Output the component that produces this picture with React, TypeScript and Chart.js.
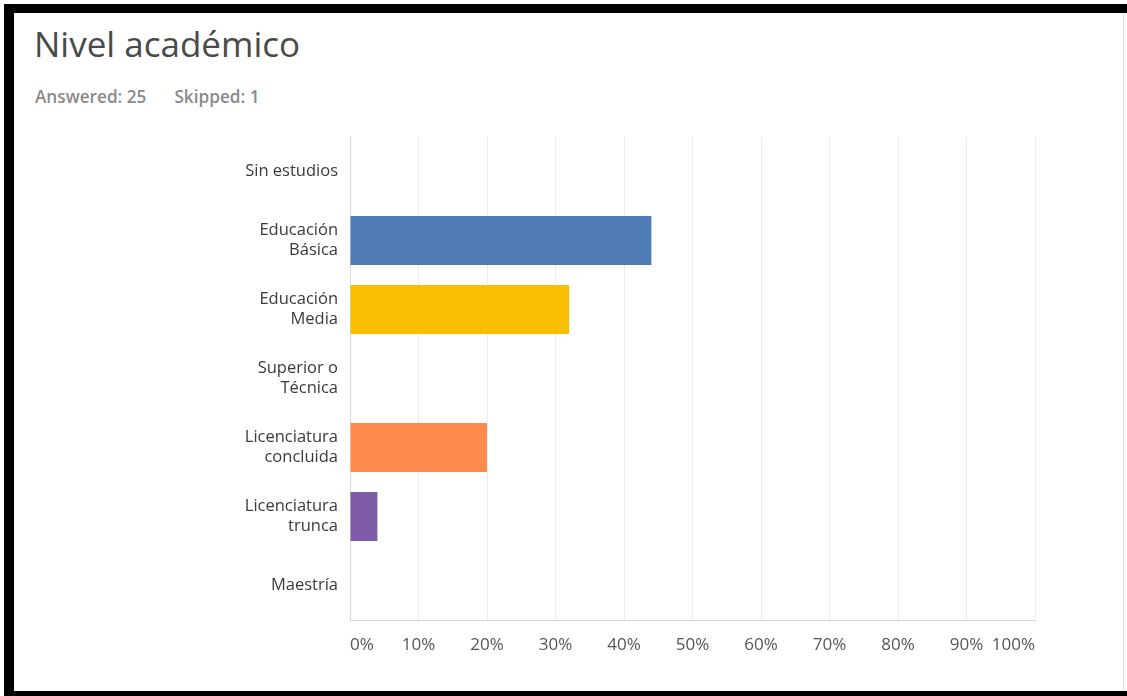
import React, { useEffect, useRef } from "react";
import { Chart, registerables } from "chart.js";

Chart.register(...registerables);

const title = "Nivel académico";
const answered = "Answered: 25";
const skipped = "Skipped: 1";

const categories: (string | string[])[] = [
  "Sin estudios",
  ["Educación", "Básica"],
  ["Educación", "Media"],
  ["Superior o", "Técnica"],
  ["Licenciatura", "concluida"],
  ["Licenciatura", "trunca"],
  "Maestría",
];
const percentages = [0, 44, 32, 0, 20, 4, 0];
const barColors = ["#6bc8cd", "#507cb6", "#f9be00", "#6bc8cd", "#ff8b4f", "#7d5ba6", "#dd57a1"];
const xTicks = [0, 10, 20, 30, 40, 50, 60, 70, 80, 90, 100];

const FONT = "'Open Sans', sans-serif";

export default function App() {
  const ref = useRef<HTMLCanvasElement | null>(null);

  useEffect(() => {
    if (!ref.current) return;
    const chart = new Chart(ref.current, {
      type: "bar",
      data: {
        labels: categories,
        datasets: [
          {
            data: percentages,
            backgroundColor: barColors,
            borderWidth: 0,
            categoryPercentage: 1,
            barPercentage: 0.71,
          },
        ],
      },
      options: {
        indexAxis: "y",
        responsive: false,
        animation: false,
        devicePixelRatio: 1,
        layout: { padding: { top: 13, right: 79, bottom: 5, left: 0 } },
        plugins: {
          legend: { display: false },
          tooltip: { enabled: false },
          title: { display: false },
        },
        scales: {
          x: {
            min: 0,
            max: 100,
            afterFit: (scale: any) => {
              scale.height = 50;
            },
            afterBuildTicks: (scale: any) => {
              scale.ticks = xTicks.map((v) => ({ value: v }));
            },
            grid: { color: "#ececec", lineWidth: 1, drawTicks: false },
            border: { display: true, color: "#dadada", width: 1 },
            ticks: {
              align: "inner",
              padding: 15,
              color: "#555",
              font: { family: FONT, size: 17 },
              maxRotation: 0,
              autoSkip: false,
              callback: (v: any) => `${v}%`,
            },
          },
          y: {
            afterFit: (scale: any) => {
              scale.width = 336;
            },
            grid: { display: false, drawTicks: false },
            border: { display: true, color: "#dadada", width: 1 },
            ticks: {
              padding: 12,
              color: "#3a3a3a",
              font: { family: FONT, size: 16.5, lineHeight: 1.2 },
              autoSkip: false,
            },
          },
        },
      },
    } as any);
    return () => chart.destroy();
  }, []);

  return (
    <div
      style={{
        position: "absolute",
        left: 0,
        top: 0,
        width: 1127,
        height: 696,
        background: "#fff",
        overflow: "hidden",
        fontFamily: FONT,
      }}
    >
      <div
        style={{
          position: "absolute",
          left: 4,
          top: 4,
          width: 1123,
          height: 692,
          boxSizing: "border-box",
          borderTop: "9px solid #000",
          borderLeft: "10px solid #000",
          borderBottom: "5px solid #000",
          background: "#fff",
        }}
      />
      <div
        style={{
          position: "absolute",
          left: 1123,
          top: 13,
          width: 1,
          height: 678,
          background: "#dddddd",
        }}
      />
      <div
        style={{
          position: "absolute",
          left: 34,
          top: 22,
          fontSize: 35,
          lineHeight: "44px",
          color: "#4a4a4a",
          fontWeight: 400,
          whiteSpace: "nowrap",
        }}
      >
        {title}
      </div>
      <div
        style={{
          position: "absolute",
          left: 35,
          top: 86,
          fontSize: 17.2,
          lineHeight: "22px",
          color: "#8a8a8a",
          fontWeight: 600,
          whiteSpace: "nowrap",
        }}
      >
        <span>{answered}</span>
        <span style={{ marginLeft: 28 }}>{skipped}</span>
      </div>
      <canvas
        ref={ref}
        width={1100}
        height={560}
        style={{ position: "absolute", left: 14, top: 115, width: 1100, height: 560 }}
      />
    </div>
  );
}
